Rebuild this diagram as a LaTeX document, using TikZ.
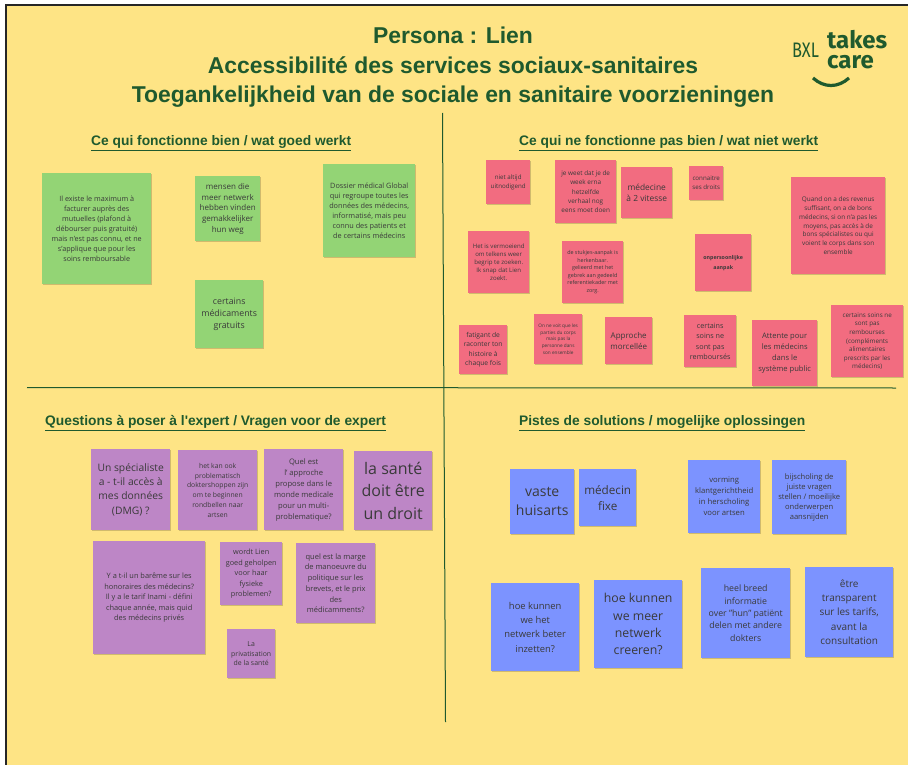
\documentclass[tikz,border=0pt]{standalone}
\usepackage{fontspec}
\setmainfont{Open Sans}
\newfontfamily\headfont{Liberation Sans}
\newfontfamily\logofont{Fira Sans}
\usetikzlibrary{shadows}
\definecolor{boardyellow}{HTML}{FEE485}
\definecolor{darkgreen}{HTML}{1F5A2E}
\definecolor{notegreen}{HTML}{93D475}
\definecolor{notered}{HTML}{F26C80}
\definecolor{notepurple}{HTML}{BD86C6}
\definecolor{noteblue}{HTML}{7C93FF}
\definecolor{notetext}{HTML}{3A3A3A}
\tikzset{
  sticky/.style={anchor=north west,inner sep=0pt,align=center,text=notetext,
    drop shadow={shadow xshift=.6pt,shadow yshift=-.8pt,opacity=.18,fill=black}},
  note/.style n args={4}{minimum width=#1pt,minimum height=#2pt,font=\fontsize{#3}{#4}\selectfont},
  maintitle/.style={inner sep=0pt,text=darkgreen,align=center,font=\headfont\bfseries\fontsize{22.9}{29.4}\selectfont},
  heading/.style={anchor=west,inner sep=0pt,text=darkgreen,font=\headfont\bfseries\fontsize{13.8}{16}\selectfont},
  divider/.style={draw=darkgreen,line width=1pt},
  logotext/.style={inner sep=0pt,text=darkgreen,anchor=west}
}
\begin{document}
\begin{tikzpicture}[x=1pt,y=-1pt]
  \useasboundingbox (0,0) rectangle (908,765);
  \fill[white] (0,0) rectangle (908,765);
  \fill[boardyellow] (6,5) rectangle (908,765);
  \draw[black!85,line width=2pt] (6,765) -- (6,5) -- (908,5);
  % title and logo
  \node[maintitle] (title) at (453,67.5) {Persona : Lien\\Accessibilité des services sociaux-sanitaires\\Toegankelijkheid van de sociale en sanitaire voorzieningen};
  \node[logotext,font=\logofont\fontsize{21}{21}\selectfont,xscale=.78,transform shape] (bxl) at (792,50) {BXL};
  \node[logotext,font=\logofont\bfseries\fontsize{24}{24}\selectfont] (takes) at (827,39.5) {takes};
  \node[logotext,font=\logofont\bfseries\fontsize{24}{24}\selectfont] (care) at (827,62) {care};
  \coordinate (smileL) at (813,78);
  \coordinate (smileR) at (849,78);
  \draw[darkgreen,line width=3.2pt] (smileL) .. controls (824,88) and (838,88) .. (smileR);
  % dividers
  \coordinate (vtop) at (442.5,113);
  \coordinate (vbot) at (445.5,722);
  \coordinate (hleft) at (27,387.5);
  \coordinate (hright) at (896,388);
  \draw[divider] (vtop) -- (vbot);
  \draw[divider] (hleft) -- (hright);
  % headings
  \node[heading] (hgood) at (91,143) {\underline{Ce qui fonctionne bien / wat goed werkt}};
  \node[heading] (hbad) at (519,143) {\underline{Ce qui ne fonctionne pas bien / wat niet werkt}};
  \node[heading] (hquest) at (45,423) {\underline{Questions à poser à l'expert / Vragen voor de expert}};
  \node[heading] (hsol) at (519,423) {\underline{Pistes de solutions / mogelijke oplossingen}};
  % green notes
  \begin{scope}[every node/.style={sticky,fill=notegreen}]
    \node[note={109}{111}{7.2}{10}] (maximum) at (42,173) {Il existe le maximum à\\facturer auprès des\\mutuelles (plafond à\\débourser puis gratuité)\\mais n'est pas connu, et ne\\s'applique que pour les\\soins remboursable};
    \node[note={65}{65}{8}{10.7}] (netwerk) at (195,176) {mensen die\\meer netwerk\\hebben vinden\\gemakkelijker\\hun weg};
    \node[note={92}{93}{7.3}{10}] (dossier) at (323,164) {Dossier médical Global\\qui regroupe toutes les\\données des médecins,\\informatisé, mais peu\\connu des patients et\\de certains médecins};
    \node[note={68}{68}{8.8}{12}] (gratuits) at (195,280) {certains\\médicaments\\gratuits};
  \end{scope}
  % red notes
  \begin{scope}[every node/.style={sticky,fill=notered}]
    \node[note={44}{44}{6.2}{9}] (altijd) at (486,160) {niet altijd\\uitnodigend};
    \node[note={61}{63}{6.4}{9.3}] (verhaal) at (555,160) {je weet dat je de\\week erna\\hetzelfde\\verhaal nog\\eens moet doen};
    \node[note={51}{51}{8.4}{11.7}] (vitesse) at (621,167) {médecine\\à 2 vitesse};
    \node[note={34}{34}{6.2}{9}] (droits) at (689,166) {connaitre\\ses droits};
    \node[note={94}{97}{6.4}{8.8}] (revenus) at (791,177) {Quand on a des revenus\\suffisant, on a de bons\\médecins, si on n'a pas les\\moyens, pas accès à de\\bons spécialistes ou qui\\voient le corps dans son\\ensemble};
    \node[note={61}{62}{6.1}{8.2}] (begrip) at (468,231) {Het is vermoeiend\\om telkens weer\\begrip te zoeken.\\Ik snap dat Lien\\zoekt.};
    \node[note={61}{62}{5.4}{7.5}] (stukjes) at (562,241) {de stukjes-aanpak is\\herkenbaar.\\gelieerd met het\\gebrek aan gedeeld\\referentiekader met\\zorg.};
    \node[note={56}{57}{5.3}{10}] (aanpak) at (695,234) {\bfseries onpersoonlijke\\\bfseries aanpak};
    \node[note={48}{50}{4.7}{6.6}] (parties) at (534,314) {On ne voit que les\\parties du corps\\mais pas la\\personne dans\\son ensemble};
    \node[note={48}{49}{6.7}{9.2}] (fatigant) at (459,325) {fatigant de\\raconter ton\\histoire à\\chaque fois};
    \node[note={47}{47}{8}{11}] (approche) at (605,317) {Approche\\morcellée};
    \node[note={52}{52}{7.2}{10.5}] (rembourses) at (684,315) {certains\\soins ne\\sont pas\\remboursés};
    \node[note={65}{66}{7.6}{10.7}] (attente) at (752,320) {Attente pour\\les médecins\\dans le\\système public};
    \node[note={72}{72}{6.3}{8.6}] (complements) at (831,305) {certains soins ne\\sont pas\\rembourses\\(compléments\\alimentaires\\prescrits par les\\médecins)};
  \end{scope}
  % purple notes
  \begin{scope}[every node/.style={sticky,fill=notepurple}]
    \node[note={79}{81}{10.3}{14.2}] (dmg) at (91,449) {Un spécialiste\\a - t-il accès à\\mes données\\(DMG) ?};
    \node[note={79}{80}{6.8}{9.7}] (shoppen) at (178,450) {het kan ook\\problematisch\\doktershoppen zijn\\om te beginnen\\rondbellen naar\\artsen};
    \node[note={79}{81}{7.6}{11}] (monde) at (264,449) {Quel est\\l` approche\\propose dans le\\monde medicale\\pour un multi-\\problematique?};
    \node[note={78}{79}{16}{22.5}] (droit) at (354,451) {la santé\\doit être\\un droit};
    \node[note={112}{113}{7.4}{10.6}] (bareme) at (93,541) {Y a t-il un barême sur les\\honoraires des médecins?\\Il y a le tarif Inami - défini\\chaque année, mais quid\\des médecins privés};
    \node[note={62}{63}{7.3}{10.4}] (geholpen) at (220,542) {wordt Lien\\goed geholpen\\voor haar\\fysieke\\problemen?};
    \node[note={79}{80}{7.5}{10.7}] (marge) at (296,543) {quel est la marge\\de manoeuvre du\\politique sur les\\brevets, et le prix\\des\\médicamments?};
    \node[note={48}{49}{6.9}{9.5}] (privatisation) at (227,629) {La\\privatisation\\de la santé};
  \end{scope}
  % blue notes
  \begin{scope}[every node/.style={sticky,fill=noteblue}]
    \node[note={64}{65}{14}{19}] (huisarts) at (510,469) {vaste\\huisarts};
    \node[note={57}{57}{11.7}{16}] (fixe) at (579,469) {médecin\\fixe};
    \node[note={72}{73}{7.7}{11}] (vorming) at (688,460) {vorming\\klantgerichtheid\\in herscholing\\voor artsen};
    \node[note={74}{74}{7.6}{10}] (bijscholing) at (772,460) {bijscholing de\\juiste vragen\\stellen / moeilijke\\onderwerpen\\aansnijden};
    \node[note={88}{88}{9.4}{14.3}] (inzetten) at (491,583) {hoe kunnen\\we het\\netwerk beter\\inzetten?};
    \node[note={88}{88}{12.3}{17.3}] (creeren) at (594,580) {hoe kunnen\\we meer\\netwerk\\creeren?};
    \node[note={89}{90}{8.8}{12.3}] (breed) at (701,568) {heel breed\\informatie\\over "hun" patiënt\\delen met andere\\dokters};
    \node[note={88}{90}{10}{14.3}] (transparent) at (805,567) {être\\transparent\\sur les tarifs,\\avant la\\consultation};
  \end{scope}
\end{tikzpicture}
\end{document}
